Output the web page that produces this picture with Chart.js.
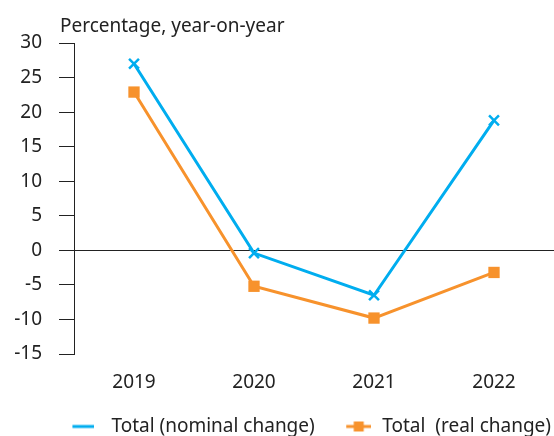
<!DOCTYPE html>
<html>
<head>
<meta charset="utf-8">
<script src="https://cdn.jsdelivr.net/npm/chart.js@4"></script>
<style>
  html, body { margin:0; padding:0; background:#fff; overflow:hidden; }
  canvas { display:block; }
</style>
</head>
<body>
<canvas id="chart" width="554" height="436"></canvas>
<script>
const years = ['2019', '2020', '2021', '2022'];
const nominalChange = [27, -0.4, -6.5, 18.8];
const realChange = [22.9, -5.2, -9.8, -3.2];
const yMin = -15, yMax = 30, yStep = 5;
const seriesNames = ['Total (nominal change)', 'Total  (real change)'];
const yTitle = 'Percentage, year-on-year';

const BLUE = '#00adef';
const ORANGE = '#f7922c';
const INK = '#222';
const FONT = "'Noto Sans', sans-serif";
const FS = 19;

// legend symbols: canvas is centred on the legend box, line drawn where the reference has it
function legendSymbol(color, w, x0, x1, square){
  const c = document.createElement('canvas');
  c.width = w; c.height = 14;
  const g = c.getContext('2d');
  g.strokeStyle = color; g.lineWidth = 3;
  g.beginPath(); g.moveTo(x0, 7); g.lineTo(x1, 7); g.stroke();
  if(square){ g.fillStyle = color; const m = (x0 + x1) / 2; g.fillRect(m - 5, 2, 10, 10); }
  return c;
}
const symbols = [legendSymbol(BLUE, 40, 18, 40, false), legendSymbol(ORANGE, 52, 27, 52, true)];

const titlePlugin = {
  id: 'cornerTitle',
  afterDraw(chart){
    const {ctx, chartArea} = chart;
    ctx.save();
    ctx.font = `${FS}px ${FONT}`;
    ctx.fillStyle = INK;
    ctx.textAlign = 'left';
    ctx.textBaseline = 'alphabetic';
    ctx.fillText(yTitle, chartArea.left - 14, chartArea.top - 11);
    ctx.restore();
  }
};

new Chart(document.getElementById('chart').getContext('2d'), {
  type: 'line',
  data: {
    labels: years,
    datasets: [
      { label: seriesNames[0], data: nominalChange, borderColor: BLUE, backgroundColor: BLUE,
        borderWidth: 3, pointStyle: 'crossRot', pointRadius: 7, pointBorderWidth: 2.5, tension: 0 },
      { label: seriesNames[1], data: realChange, borderColor: ORANGE, backgroundColor: ORANGE,
        borderWidth: 3, pointStyle: 'rect', pointRadius: 8, pointBorderWidth: 0, tension: 0 }
    ]
  },
  plugins: [titlePlugin],
  options: {
    responsive: false,
    animation: false,
    layout: { autoPadding: false, padding: { left: 0, right: 0, top: 43, bottom: -10 } },
    plugins: {
      legend: {
        position: 'bottom',
        align: 'end',
        labels: {
          usePointStyle: true, pointStyleWidth: 55, padding: 3, color: INK,
          font: { family: FONT, size: FS },
          generateLabels: chart => chart.data.datasets.map((ds, i) => ({
            text: ds.label, pointStyle: symbols[i], fillStyle: ds.borderColor,
            strokeStyle: ds.borderColor, lineWidth: 0, datasetIndex: i, fontColor: INK
          }))
        }
      },
      tooltip: { enabled: false }
    },
    scales: {
      x: {
        offset: true,
        grid: { display: false, drawTicks: true, tickLength: 17 },
        border: { display: false },
        ticks: { color: INK, padding: 0, font: { family: FONT, size: FS } },
        afterFit: s => { s.height = 60; s.paddingLeft = 0; s.paddingRight = 0; }
      },
      y: {
        min: yMin, max: yMax,
        ticks: { stepSize: yStep, color: INK, padding: 17, font: { family: FONT, size: FS } },
        grid: {
          drawOnChartArea: true, drawTicks: true, tickLength: 15, tickColor: INK, tickWidth: 1,
          color: c => (c.tick && c.tick.value === 0) ? INK : 'rgba(0,0,0,0)', lineWidth: 1
        },
        border: { display: true, color: INK, width: 1 },
        afterFit: s => { s.width = 74; }
      }
    }
  }
});
</script>
</body>
</html>
